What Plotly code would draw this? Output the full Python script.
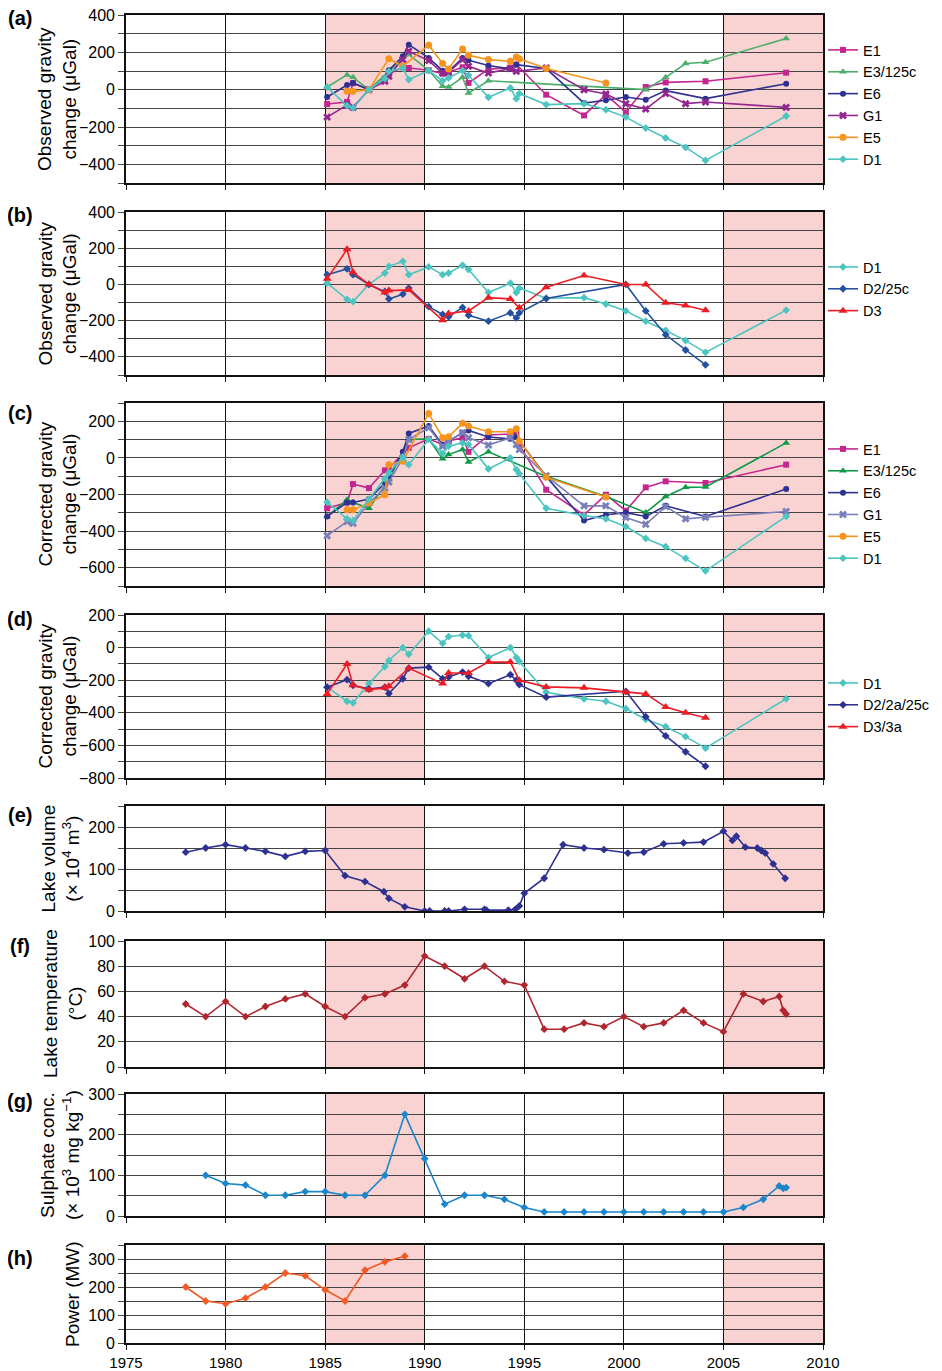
import plotly.graph_objects as go

# ---------------- data ----------------
# (a) observed gravity change (uGal)
a_E1_t = [1985.1, 1986.1, 1986.4, 1987.2, 1988.0, 1988.2, 1988.9, 1989.2, 1990.2, 1990.9, 1991.2, 1991.9, 1992.2, 1993.2, 1994.3, 1994.6, 1996.1, 1998.0, 1999.1, 2000.1, 2001.1, 2002.1, 2004.1, 2008.15]
a_E1_v = [-77, -66, 35, 0, 60, 85, 120, 116, 104, 86, 93, 120, 36, 110, 118, 135, -27, -138, -27, -122, 14, 39, 45, 91]
a_E3_t = [1985.1, 1986.1, 1986.4, 1987.2, 1988.2, 1989.2, 1990.2, 1990.9, 1991.2, 1991.9, 1992.2, 1993.2, 2001.1, 2002.1, 2003.1, 2004.1, 2008.15]
a_E3_v = [14, 79, 66, 0, 98, 188, 104, 18, 14, 66, -18, 48, 0, 66, 140, 147, 274]
a_E6_t = [1985.1, 1986.1, 1986.4, 1987.2, 1988.0, 1988.2, 1988.9, 1989.2, 1990.2, 1990.9, 1991.2, 1991.9, 1992.2, 1993.2, 1994.3, 1994.6, 1996.1, 1998.0, 1999.1, 2000.1, 2001.1, 2002.1, 2004.1, 2008.15]
a_E6_v = [-39, 25, 36, 0, 55, 104, 179, 241, 170, 102, 98, 170, 157, 129, 111, 134, 113, -72, -57, -39, -54, -5, -48, 32]
a_G1_t = [1985.1, 1986.1, 1986.4, 1987.2, 1988.0, 1988.2, 1988.9, 1989.2, 1990.2, 1990.9, 1991.2, 1991.9, 1992.2, 1993.2, 1994.3, 1994.6, 1996.1, 1998.0, 1999.1, 2000.1, 2001.1, 2002.1, 2003.1, 2004.1, 2008.15]
a_G1_v = [-147, -83, -95, 0, 45, 72, 161, 206, 156, 89, 93, 161, 125, 89, 113, 98, 116, 0, -23, -75, -104, -21, -75, -66, -95]
a_E5_t = [1986.1, 1986.4, 1987.2, 1988.2, 1988.9, 1990.2, 1990.9, 1991.2, 1991.9, 1992.2, 1993.2, 1994.3, 1994.6, 1994.75, 1996.1, 1999.1]
a_E5_v = [-9, -9, 0, 166, 125, 238, 140, 111, 218, 184, 161, 152, 175, 165, 113, 36]
a_D1_t = [1985.1, 1986.1, 1986.4, 1987.2, 1988.0, 1988.2, 1988.9, 1989.2, 1990.2, 1990.9, 1991.2, 1991.9, 1992.2, 1993.2, 1994.3, 1994.6, 1994.75, 1996.1, 1998.0, 1999.1, 2000.1, 2001.1, 2002.1, 2003.1, 2004.1, 2008.15]
a_D1_v = [14, -86, -98, 0, 59, 98, 116, 54, 102, 48, 63, 102, 77, -41, 9, -48, -21, -80, -75, -107, -147, -206, -259, -309, -379, -141]

# (b) observed gravity change, D stations
b_D1_t = a_D1_t
b_D1_v = [7, -82, -95, 0, 63, 100, 127, 54, 97, 54, 63, 106, 82, -45, 7, -45, -20, -76, -73, -108, -146, -203, -254, -310, -375, -142]
b_D2_t = [1985.1, 1986.1, 1986.4, 1987.2, 1988.0, 1988.2, 1988.9, 1989.2, 1990.2, 1990.9, 1991.2, 1991.9, 1992.2, 1993.2, 1994.3, 1994.6, 1994.75, 1996.1, 2000.1, 2001.1, 2002.1, 2003.1, 2004.1]
b_D2_v = [54, 86, 54, 0, -39, -80, -54, -20, -123, -166, -179, -127, -170, -203, -157, -185, -157, -78, 0, -146, -278, -362, -444]
b_D3_t = [1985.1, 1986.1, 1986.4, 1987.2, 1988.0, 1988.2, 1989.2, 1990.9, 1991.2, 1992.2, 1993.2, 1994.3, 1994.75, 1996.1, 1998.0, 2000.1, 2001.1, 2002.1, 2003.1, 2004.1]
b_D3_v = [32, 194, 67, 0, -45, -34, -30, -198, -160, -146, -73, -80, -129, -15, 49, 0, 0, -101, -116, -142]

# (c) corrected gravity change
c_E1_t = [1985.1, 1986.1, 1986.4, 1987.2, 1988.0, 1988.2, 1989.2, 1990.2, 1990.9, 1991.2, 1991.9, 1992.2, 1993.2, 1994.3, 1994.6, 1994.75, 1996.1, 1998.0, 1999.1, 2000.1, 2001.1, 2002.1, 2004.1, 2008.15]
c_E1_v = [-275, -244, -143, -165, -68, -55, 55, 104, 73, 92, 110, 33, 125, 128, 132, 73, -174, -311, -201, -289, -161, -128, -137, -37]
c_E3_t = [1985.1, 1986.1, 1986.4, 1987.2, 1988.2, 1989.2, 1990.2, 1990.9, 1991.2, 1991.9, 1992.2, 1993.2, 1996.1, 1999.1, 2001.1, 2002.1, 2003.1, 2004.1, 2008.15]
c_E3_v = [-320, -229, -244, -275, -119, 101, 104, -5, 18, 46, -22, 33, -101, -211, -299, -211, -161, -159, 82]
c_E6_t = [1985.1, 1986.1, 1986.4, 1987.2, 1988.0, 1988.2, 1988.9, 1989.2, 1990.2, 1990.9, 1991.2, 1991.9, 1992.2, 1993.2, 1994.3, 1994.6, 1996.1, 1998.0, 1999.1, 2000.1, 2001.1, 2002.1, 2004.1, 2008.15]
c_E6_v = [-320, -244, -244, -225, -137, -101, 33, 134, 174, 70, 92, 137, 150, 114, 104, 115, -101, -342, -311, -299, -320, -262, -320, -170]
c_G1_t = [1985.1, 1986.1, 1986.4, 1987.2, 1988.0, 1988.2, 1988.9, 1989.2, 1990.2, 1990.9, 1991.2, 1991.9, 1992.2, 1993.2, 1994.3, 1994.6, 1994.75, 1996.1, 1998.0, 1999.1, 2000.1, 2001.1, 2002.1, 2003.1, 2004.1, 2008.15]
c_G1_v = [-425, -348, -357, -247, -165, -132, 0, 101, 165, 64, 92, 137, 110, 70, 110, 73, 46, -97, -262, -262, -326, -363, -266, -333, -324, -293]
c_E5_t = [1986.1, 1986.4, 1987.2, 1988.0, 1988.2, 1988.9, 1990.2, 1990.9, 1991.2, 1991.9, 1992.2, 1993.2, 1994.3, 1994.6, 1994.75, 1996.1, 1999.1]
c_E5_v = [-284, -284, -247, -201, -37, -18, 242, 110, 115, 189, 174, 143, 143, 159, 92, -106, -214]
c_D1_t = a_D1_t
c_D1_v = [-242, -333, -342, -225, -114, -82, 5, -37, 101, 24, 64, 82, 73, -60, 0, -64, -86, -275, -315, -333, -375, -440, -485, -549, -617, -320]

# (d) corrected gravity change, D stations
d_D1_t = a_D1_t
d_D1_v = [-243, -329, -339, -221, -116, -79, 0, -41, 101, 26, 67, 77, 73, -61, 0, -61, -85, -274, -314, -329, -375, -440, -485, -546, -617, -314]
d_D2_t = [1985.1, 1986.1, 1986.4, 1987.2, 1988.0, 1988.2, 1988.9, 1989.2, 1990.2, 1990.9, 1991.2, 1991.9, 1992.2, 1993.2, 1994.3, 1994.6, 1994.75, 1996.1, 2000.1, 2001.1, 2002.1, 2003.1, 2004.1]
d_D2_v = [-243, -197, -231, -254, -243, -282, -191, -126, -120, -191, -181, -150, -176, -221, -166, -201, -227, -304, -268, -424, -542, -639, -728]
d_D3_t = [1985.1, 1986.1, 1986.4, 1987.2, 1988.0, 1988.2, 1989.2, 1990.9, 1991.2, 1992.2, 1993.2, 1994.3, 1994.75, 1996.1, 1998.0, 2000.1, 2001.1, 2002.1, 2003.1, 2004.1]
d_D3_v = [-284, -101, -231, -258, -247, -237, -126, -221, -156, -156, -89, -89, -201, -241, -247, -274, -284, -365, -400, -430]

# (e) lake volume (x10^4 m3)
vol_t = [1978.0, 1979.0, 1980.0, 1981.0, 1982.0, 1983.0, 1984.0, 1985.0, 1986.0, 1987.0, 1987.95, 1988.2, 1989.0, 1990.0, 1990.25, 1991.0, 1991.2, 1992.0, 1993.0, 1993.1, 1994.2, 1994.55, 1994.75, 1995.0, 1996.0, 1996.95, 1998.0, 1999.0, 2000.2, 2001.0, 2002.0, 2003.0, 2004.0, 2005.0, 2005.45, 2005.65, 2006.1, 2006.7, 2006.9, 2007.1, 2007.5, 2008.1]
vol_v = [140, 150, 158, 150, 142, 130, 142, 144, 84, 70, 46, 30, 10, 0, 0, 0, 0, 4, 4, 2, 2, 4, 12, 42, 78, 158, 150, 146, 138, 140, 160, 162, 164, 190, 168, 178, 152, 150, 144, 138, 112, 78]

# (f) lake temperature (degC)
temp_t = [1978, 1979, 1980, 1981, 1982, 1983, 1984, 1985, 1986, 1987, 1988, 1989, 1990, 1991, 1992, 1993, 1994, 1995, 1996, 1997, 1998, 1999, 2000, 2001, 2002, 2003, 2004, 2005, 2006, 2007, 2007.8, 2008.0, 2008.15]
temp_v = [50, 40, 52, 40, 48, 54, 58, 48, 40, 55, 58, 65, 88, 80, 70, 80, 68, 65, 30, 30, 35, 32, 40, 32, 35, 45, 35, 28, 58, 52, 56, 45, 42]

# (g) sulphate concentration (x10^3 mg/kg)
sul_t = [1979, 1980, 1981, 1982, 1983, 1984, 1985, 1986, 1987, 1988, 1989, 1990, 1991, 1992, 1993, 1994, 1995, 1996, 1997, 1998, 1999, 2000, 2001, 2002, 2003, 2004, 2005, 2006, 2007, 2007.8, 2008.0, 2008.15]
sul_v = [100, 80, 76, 51, 51, 60, 60, 51, 51, 100, 250, 141, 29, 51, 51, 41, 21, 10, 10, 10, 10, 10, 10, 10, 10, 10, 10, 21, 41, 74, 68, 70]

# (h) power (MW)
pow_t = [1978, 1979, 1980, 1981, 1982, 1983, 1984, 1985, 1986, 1987, 1988, 1989]
pow_v = [200, 150, 140, 160, 200, 250, 240, 190, 150, 260, 290, 310]

# shaded periods
shade_periods = [(1985, 1990), (2005, 2010)]
x_ticks = [1975, 1980, 1985, 1990, 1995, 2000, 2005, 2010]

# ---------------- styling ----------------
OFF = 8                      # page body margin
W, H = 942 - OFF, 1371 - OFF
FONT = "Liberation Sans, Arial, Helvetica, sans-serif"
MINUS = "\u2212"

def fx(p):  # page pixel -> paper x
    return (p - OFF) / W

def fy(p):  # page pixel -> paper y
    return 1 - (p - OFF) / H

def lab(v):
    return (MINUS + str(-v)) if v < 0 else str(v)

# panel pixel boxes (top, bottom) in page pixels
boxes = [(15, 183), (212, 375), (403, 586), (615, 778), (806, 911), (941, 1067), (1094, 1216), (1245, 1343)]
XL, XR = 126, 823

fig = go.Figure()

def add(panel, t, v, name, color, symbol, size, legend=None):
    fig.add_trace(go.Scatter(
        x=t, y=v, name=name, mode="lines+markers",
        line=dict(color=color, width=1.6),
        marker=dict(color=color, symbol=symbol, size=size, line=dict(width=0)),
        xaxis="x" + ("" if panel == 1 else str(panel)),
        yaxis="y" + ("" if panel == 1 else str(panel)),
        legend=legend, showlegend=legend is not None,
    ))

C_E1 = "#c4268f"; C_E6 = "#2e3192"; C_E5 = "#f7941d"; C_D1 = "#4cc4c0"; C_D3 = "#ed1c24"

add(1, a_E1_t, a_E1_v, "E1", C_E1, "square", 6, "legend")
add(1, a_E3_t, a_E3_v, "E3/125c", "#4cae6b", "triangle-up", 7, "legend")
add(1, a_E6_t, a_E6_v, "E6", C_E6, "circle", 6, "legend")
add(1, a_G1_t, a_G1_v, "G1", "#93278f", "x", 7, "legend")
add(1, a_E5_t, a_E5_v, "E5", C_E5, "circle", 7, "legend")
add(1, a_D1_t, a_D1_v, "D1", C_D1, "diamond", 6, "legend")

add(2, b_D1_t, b_D1_v, "D1", C_D1, "diamond", 6, "legend2")
add(2, b_D2_t, b_D2_v, "D2/25c", "#2350a0", "diamond", 6, "legend2")
add(2, b_D3_t, b_D3_v, "D3", C_D3, "triangle-up", 8, "legend2")

add(3, c_E1_t, c_E1_v, "E1", C_E1, "square", 6, "legend3")
add(3, c_E3_t, c_E3_v, "E3/125c", "#0f9a48", "triangle-up", 7, "legend3")
add(3, c_E6_t, c_E6_v, "E6", C_E6, "circle", 6, "legend3")
add(3, c_G1_t, c_G1_v, "G1", "#7a7fba", "x", 7, "legend3")
add(3, c_E5_t, c_E5_v, "E5", C_E5, "circle", 7, "legend3")
add(3, c_D1_t, c_D1_v, "D1", C_D1, "diamond", 6, "legend3")

add(4, d_D1_t, d_D1_v, "D1", C_D1, "diamond", 6, "legend4")
add(4, d_D2_t, d_D2_v, "D2/2a/25c", C_E6, "diamond", 6, "legend4")
add(4, d_D3_t, d_D3_v, "D3/3a", C_D3, "triangle-up", 8, "legend4")

add(5, vol_t, vol_v, "Lake volume", "#2e3192", "diamond", 6)
add(6, temp_t, temp_v, "Lake temperature", "#b0262e", "diamond", 6)
add(7, sul_t, sul_v, "Sulphate", "#1b86c9", "diamond", 6)
add(8, pow_t, pow_v, "Power", "#f15a24", "diamond", 6)

# y-axis specs: range, grid step, labelled values
yspecs = [
    ((-500, 400), 100, [-400, -200, 0, 200, 400]),
    ((-500, 400), 100, [-400, -200, 0, 200, 400]),
    ((-700, 300), 100, [-600, -400, -200, 0, 200]),
    ((-800, 200), 100, [-800, -600, -400, -200, 0, 200]),
    ((0, 250), 50, [0, 100, 200]),
    ((0, 100), 20, [0, 20, 40, 60, 80, 100]),
    ((0, 300), 50, [0, 100, 200, 300]),
    ((0, 350), 50, [0, 100, 200, 300]),
]

layout = dict(
    width=W, height=H, autosize=False,
    margin=dict(l=0, r=0, t=0, b=0, pad=0, autoexpand=False),
    paper_bgcolor="white", plot_bgcolor="rgba(0,0,0,0)",
    font=dict(family=FONT, size=15, color="black"),
    shapes=[], annotations=[],
)

for i, (box, spec) in enumerate(zip(boxes, yspecs), start=1):
    top, bot = box
    dom = [fy(bot), fy(top)]
    (lo, hi), step, labelled = spec
    grid_vals = list(range(lo, hi + 1, step))
    sx = "" if i == 1 else str(i)
    layout["xaxis" + sx] = dict(
        domain=[fx(XL), fx(XR)], range=[1975, 2010], anchor="y" + sx,
        tickvals=x_ticks, showticklabels=(i == 8), automargin=False,
        ticklabeloverflow="allow",
        showgrid=True, gridcolor="#111", gridwidth=1.3,
        showline=True, linecolor="#111", linewidth=1.6, mirror=True,
        ticks="outside", ticklen=5, tickcolor="#111",
        zeroline=False, tickfont=dict(size=15),
    )
    layout["yaxis" + sx] = dict(
        domain=dom, range=[lo, hi], anchor="x" + sx, automargin=False,
        ticklabeloverflow="allow",
        tickvals=labelled, ticktext=[lab(v) for v in labelled],
        showgrid=True, gridcolor="#444", gridwidth=1.3,
        showline=True, linecolor="#111", linewidth=1.6, mirror=True,
        ticks="outside", ticklen=6, tickcolor="#444",
        minor=dict(tickvals=grid_vals, showgrid=True, gridcolor="#444", gridwidth=1.3,
                   ticks="outside", ticklen=6, tickcolor="#444"),
        zeroline=False, tickfont=dict(size=16),
    )
    for (s0, s1) in shade_periods:
        layout["shapes"].append(dict(
            type="rect", xref="x" + sx, yref="y" + sx + " domain",
            x0=s0, x1=s1, y0=0, y1=1, fillcolor="#f9d3d1",
            line=dict(width=0), layer="below"))

letters = ["(a)", "(b)", "(c)", "(d)", "(e)", "(f)", "(g)", "(h)"]
letter_y = [18, 215, 413, 619, 815, 946, 1101, 1258]
for L, yy in zip(letters, letter_y):
    layout["annotations"].append(dict(
        text="<b>" + L + "</b>", xref="paper", yref="paper",
        x=fx(20), y=fy(yy), showarrow=False, xanchor="center", yanchor="middle",
        font=dict(size=20)))

titles = [
    "Observed gravity<br>change (\u03bcGal)",
    "Observed gravity<br>change (\u03bcGal)",
    "Corrected gravity<br>change (\u03bcGal)",
    "Corrected gravity<br>change (\u03bcGal)",
    "Lake volume<br>(\u00d7 10<sup>4</sup> m<sup>3</sup>)",
    "Lake temperature<br>(\u00b0C)",
    "Sulphate conc.<br>(\u00d7 10<sup>3</sup> mg kg<sup>" + MINUS + "1</sup>)",
    "Power (MW)",
]
title_x = [57, 57, 57, 57, 61, 63, 60, 72]
for tt, tx, box in zip(titles, title_x, boxes):
    layout["annotations"].append(dict(
        text=tt, xref="paper", yref="paper", x=fx(tx), y=fy((box[0] + box[1]) / 2),
        showarrow=False, textangle=-90, xanchor="center", yanchor="middle",
        font=dict(size=19)))

leg_centers = [105, 289, 504, 705]
for j, yc in enumerate(leg_centers):
    key = "legend" if j == 0 else "legend" + str(j + 1)
    layout[key] = dict(
        x=fx(823), y=fy(yc), xanchor="left", yanchor="middle",
        bgcolor="rgba(0,0,0,0)", borderwidth=0, font=dict(size=14.5),
        itemwidth=30, tracegroupgap=0, traceorder="normal")

fig.update_layout(**layout)
fig.write_html("out.html")
